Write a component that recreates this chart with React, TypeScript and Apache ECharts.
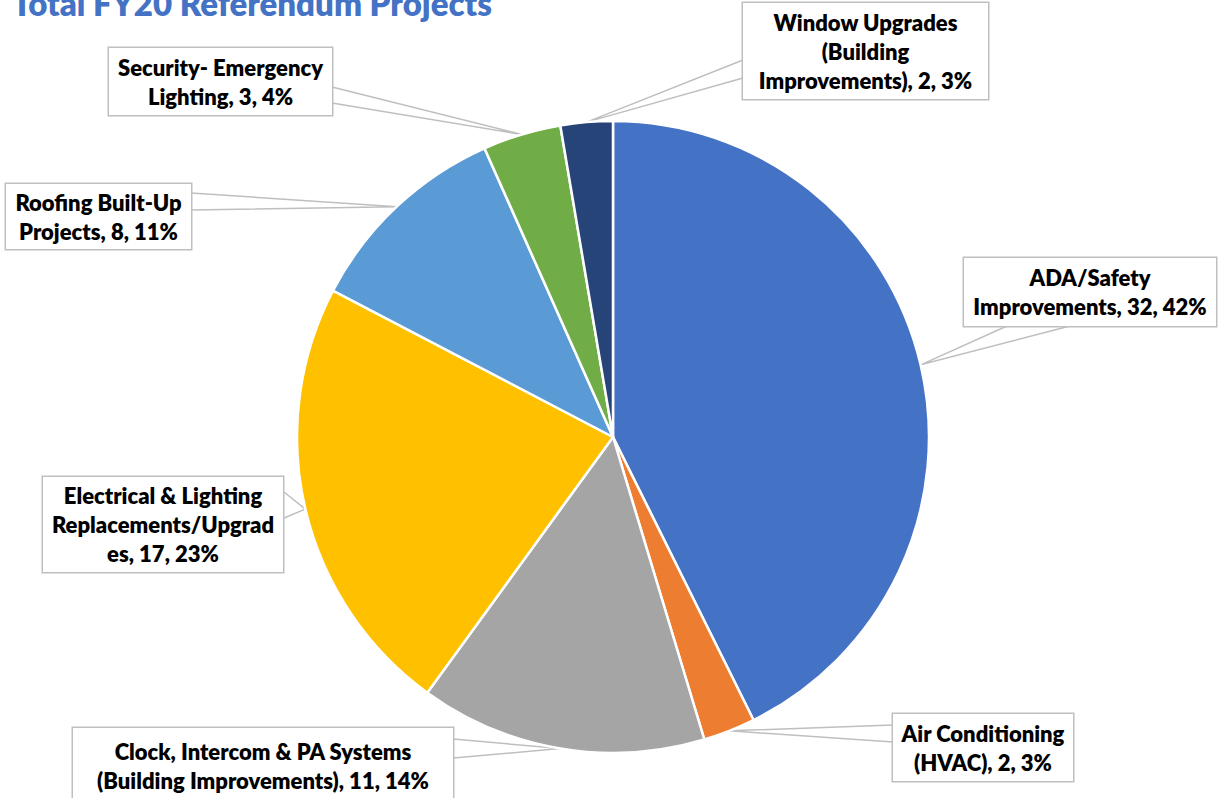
import React, { useEffect, useRef } from "react";
import * as echarts from "echarts";

const categories = [
  "ADA/Safety Improvements",
  "Air Conditioning (HVAC)",
  "Clock, Intercom & PA Systems (Building Improvements)",
  "Electrical & Lighting Replacements/Upgrades",
  "Roofing Built-Up Projects",
  "Security- Emergency Lighting",
  "Window Upgrades (Building Improvements)",
];
const values = [32, 2, 11, 17, 8, 3, 2];
const percentLabels = ["42%", "3%", "14%", "23%", "11%", "4%", "3%"];
const wrappedNames = [
  "ADA/Safety\nImprovements",
  "Air Conditioning\n(HVAC)",
  "Clock, Intercom & PA Systems\n(Building Improvements)",
  "Electrical & Lighting\nReplacements/Upgrad\nes",
  "Roofing Built-Up\nProjects",
  "Security- Emergency\nLighting",
  "Window Upgrades\n(Building\nImprovements)",
];
const colors = ["#4472C4", "#ED7D31", "#A5A5A5", "#FFC000", "#5B9BD5", "#70AD47", "#264478"];
const title = "Total FY20 Referendum Projects";

// label box layout: center x, center y, width, height, and callout base points on the box edge
const labelBoxes = [
  { cx: 1090, cy: 292, w: 252, h: 68, base: [[1007, 326], [1070, 326]] },
  { cx: 983, cy: 747.5, w: 180, h: 67, base: [[893, 742], [893, 725]] },
  { cx: 263, cy: 766, w: 380, h: 76, base: [[453, 739], [453, 758]] },
  { cx: 163, cy: 524.5, w: 240, h: 95, base: [[284, 492], [284, 518]] },
  { cx: 98.5, cy: 216.5, w: 185, h: 65, base: [[191, 193], [191, 210]] },
  { cx: 220.5, cy: 81.5, w: 223, h: 67, base: [[332, 87], [332, 103]] },
  { cx: 865.5, cy: 51, w: 245, h: 96, base: [[743, 60], [743, 78]] },
];

const LINE_H = 29;
const FONT = "Lato, 'Open Sans', sans-serif";

export default function App() {
  const ref = useRef<HTMLDivElement>(null);
  useEffect(() => {
    document.body.style.margin = "0";
    if (!ref.current) return;
    const chart = echarts.init(ref.current, null, { renderer: "svg" });
    const data = categories.map((name, i) => {
      const b = labelBoxes[i];
      const nLines = wrappedNames[i].split("\n").length;
      const padV = Math.max(0, (b.h - nLines * LINE_H) / 2);
      return {
        name,
        value: values[i],
        itemStyle: { color: colors[i] },
        label: {
          width: b.w,
          padding: [padV, 0, padV, 0],
        },
      };
    });
    chart.setOption({
      animation: false,
      backgroundColor: "#ffffff",
      graphic: [
        {
          type: "text",
          left: 12,
          top: -14,
          style: {
            text: title,
            fill: "#4472C4",
            font: `800 33px ${FONT}`,
          },
        },
      ],
      series: [
        {
          type: "pie",
          center: [613, 437],
          radius: 316,
          startAngle: 90,
          clockwise: true,
          avoidLabelOverlap: false,
          data,
          itemStyle: { borderColor: "#ffffff", borderWidth: 2.5 },
          label: {
            show: true,
            position: "outside",
            formatter: (p: any) =>
              `${wrappedNames[p.dataIndex]}, ${values[p.dataIndex]}, ${percentLabels[p.dataIndex]}`,
            fontFamily: FONT,
            fontSize: 22,
            fontWeight: 800,
            color: "#000000",
            lineHeight: LINE_H,
            align: "center",
            backgroundColor: "#ffffff",
            borderColor: "#BFBFBF",
            borderWidth: 1.5,
          },
          labelLine: {
            show: true,
            length: 15,
            length2: 15,
            smooth: false,
            lineStyle: { color: "#BFBFBF", width: 1.5 },
          },
          labelLayout: (params: any) => {
            const b = labelBoxes[params.dataIndex];
            const tip = params.labelLinePoints && params.labelLinePoints[0];
            const res: any = { x: b.cx, y: b.cy, align: "center", verticalAlign: "middle" };
            if (tip) res.labelLinePoints = [b.base[0], [tip[0], tip[1]], b.base[1]];
            return res;
          },
        },
      ],
    });
    return () => chart.dispose();
  }, []);
  return <div ref={ref} style={{ width: 1225, height: 798 }} />;
}
